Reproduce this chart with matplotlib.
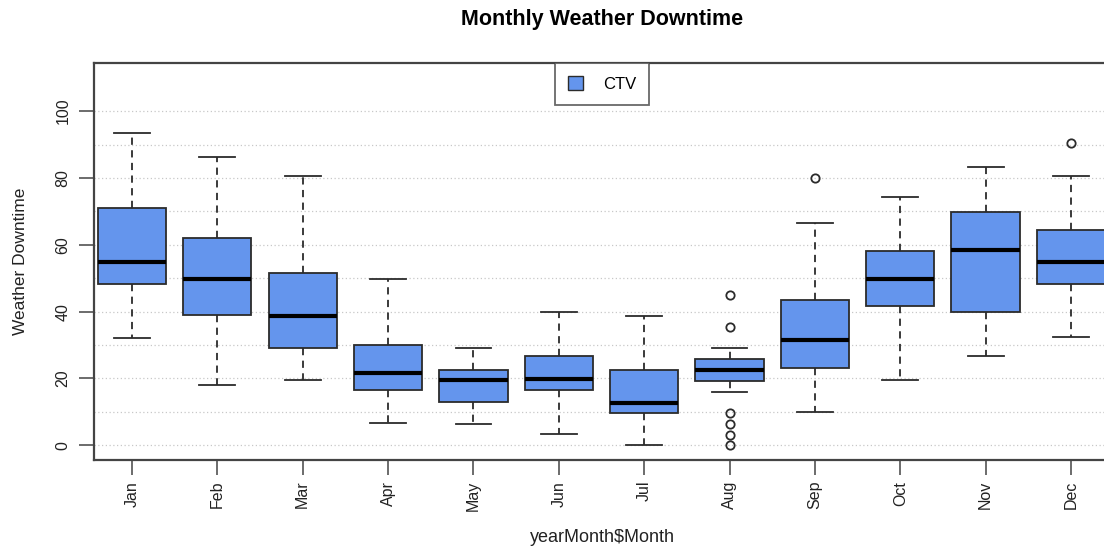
import matplotlib
matplotlib.use("Agg")
import matplotlib.pyplot as plt
from matplotlib.patches import Patch

plt.rcParams["font.family"] = ["Liberation Sans", "DejaVu Sans"]

MONTHS = ["Jan", "Feb", "Mar", "Apr", "May", "Jun",
          "Jul", "Aug", "Sep", "Oct", "Nov", "Dec"]

# five-number summaries per month (lower whisker, Q1, median, Q3, upper whisker)
WHISKER_LO = [32.2, 17.9, 19.4, 6.8, 6.4, 3.3, 0.0, 16.0, 9.9, 19.4, 26.8, 32.3]
Q1 = [48.4, 39.1, 29.0, 16.6, 13.0, 16.6, 9.6, 19.2, 23.2, 41.8, 40.0, 48.4]
MEDIAN = [54.9, 49.9, 38.8, 21.7, 19.4, 19.9, 12.8, 22.5, 31.6, 49.9, 58.3, 54.8]
Q3 = [71.0, 62.0, 51.5, 29.9, 22.6, 26.7, 22.6, 25.7, 43.4, 58.1, 69.9, 64.4]
WHISKER_HI = [93.5, 86.2, 80.6, 49.9, 29.0, 39.9, 38.7, 29.0, 66.6, 74.2, 83.3, 80.6]
OUTLIERS = [[], [], [], [], [], [], [],
            [45.1, 35.4, 9.8, 6.5, 3.2, 0.0],
            [80.0], [], [], [90.4]]

FILL = "#6495ED"
EDGE = "#2b2b2b"


def build_stats():
    stats = []
    for i, month in enumerate(MONTHS):
        stats.append({
            "label": month,
            "whislo": WHISKER_LO[i],
            "q1": Q1[i],
            "med": MEDIAN[i],
            "q3": Q3[i],
            "whishi": WHISKER_HI[i],
            "fliers": OUTLIERS[i],
        })
    return stats


def main() -> None:
    fig = plt.figure(figsize=(11.04, 5.48), dpi=100)
    # plot region runs slightly past the right edge of the canvas
    ax = fig.add_axes([94 / 1104, 1 - 460 / 548, 1016 / 1104, 397 / 548])

    ax.set_ylim(-4.4, 114.4)
    ax.set_xlim(0.555, 12.457)
    for y in range(0, 101, 10):
        ax.axhline(y, color="#c8c8c8", linestyle=(0, (1, 2)), linewidth=0.9, zorder=0)

    ax.bxp(
        build_stats(),
        positions=range(1, len(MONTHS) + 1),
        widths=0.8,
        patch_artist=True,
        showfliers=True,
        boxprops=dict(facecolor=FILL, edgecolor=EDGE, linewidth=1.3),
        medianprops=dict(color="black", linewidth=3.0),
        whiskerprops=dict(color=EDGE, linewidth=1.3, linestyle=(0, (4, 3))),
        capprops=dict(color=EDGE, linewidth=1.3),
        capwidths=0.42,
        flierprops=dict(marker="o", markerfacecolor="none", markeredgecolor=EDGE,
                        markersize=6, markeredgewidth=1.3),
        zorder=2,
    )

    ax.set_yticks(range(0, 101, 20))
    ax.set_yticklabels([str(v) for v in range(0, 101, 20)], rotation=90, va="center")
    ax.set_xticks(range(1, len(MONTHS) + 1))
    ax.set_xticklabels(MONTHS, rotation=90)
    ax.tick_params(axis="both", direction="out", length=11, width=1.1, color="#444444",
                   labelsize=11.5, labelcolor="#222222", pad=4)
    ax.tick_params(axis="y", pad=6)

    for side in ["left", "bottom", "top"]:
        ax.spines[side].set_color("#444444")
        ax.spines[side].set_linewidth(1.6)
    ax.spines["right"].set_visible(False)

    ax.set_ylabel("Weather Downtime", fontsize=12.5, color="#222222", labelpad=20)
    ax.set_xlabel("yearMonth$Month", fontsize=13, color="#222222", labelpad=13)
    fig.text(602 / 1104, 1 - 19 / 548, "Monthly Weather Downtime", ha="center", va="center",
             fontsize=15.5, fontweight="bold")

    handle = Patch(facecolor=FILL, edgecolor=EDGE, linewidth=1.0)
    leg = ax.legend([handle], ["CTV"], loc="upper center", bbox_to_anchor=(508 / 1016, 1.0),
                    frameon=True, fancybox=False, fontsize=12, handlelength=0.9,
                    handleheight=0.9, handletextpad=1.2, borderpad=0.8, borderaxespad=0)
    leg.get_frame().set_edgecolor("#444444")
    leg.get_frame().set_linewidth(1.3)

    fig.savefig("out.png", dpi=100)
    plt.close(fig)


if __name__ == "__main__":
    main()
